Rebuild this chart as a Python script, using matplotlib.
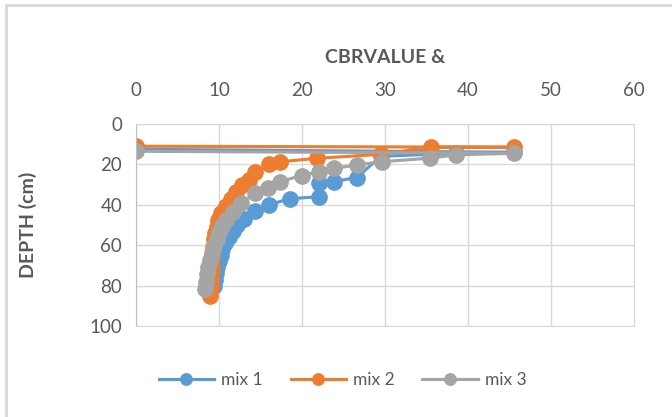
import matplotlib.pyplot as plt
from matplotlib.patches import Rectangle

# CBR value (x) vs depth (y) for three mixes
mix1_cbr = [0, 45.5, 38.5, 35.5, 29.5, 26.6, 23.8, 22.0, 22.0, 18.5, 16.0, 14.3,
            13.0, 12.2, 11.7, 11.2, 10.7, 10.4, 10.2, 10.0, 9.8, 9.6, 9.5, 9.4]
mix1_depth = [12.5, 14.0, 14.5, 15.0, 16.0, 26.5, 28.5, 29.0, 36.0, 37.0, 40.0, 43.0,
              47.0, 50.0, 53.0, 56.0, 59.0, 62.0, 65.0, 68.0, 71.0, 74.0, 77.0, 80.0]

mix2_cbr = [0, 45.5, 35.5, 29.5, 21.8, 17.3, 16.0, 14.3, 13.6, 12.8, 12.0, 11.4, 10.8,
            10.3, 9.9, 9.7, 9.5, 9.4, 9.3, 9.2, 9.1, 9.1, 9.0, 9.0, 8.9]
mix2_depth = [11.0, 11.5, 11.5, 15.0, 17.0, 18.7, 20.0, 24.0, 27.5, 30.0, 33.5, 37.0, 40.5,
              44.0, 47.5, 51.0, 54.0, 57.0, 61.0, 65.0, 69.0, 73.0, 77.0, 81.0, 85.0]

mix3_cbr = [0, 45.5, 38.5, 35.4, 29.6, 26.6, 23.8, 22.0, 20.0, 17.3, 15.9, 14.3, 12.7,
            11.7, 10.9, 10.4, 10.0, 9.7, 9.4, 9.1, 8.9, 8.7, 8.5, 8.4, 8.3]
mix3_depth = [13.5, 14.5, 15.3, 16.9, 18.7, 20.3, 22.0, 23.6, 25.5, 28.5, 31.9, 34.3, 39.3,
              43.4, 47.5, 50.5, 53.5, 57.0, 60.5, 64.0, 67.5, 71.0, 74.5, 78.0, 81.5]

series = [
    ("mix 1", mix1_cbr, mix1_depth, "#5B9BD5"),
    ("mix 2", mix2_cbr, mix2_depth, "#ED7D31"),
    ("mix 3", mix3_cbr, mix3_depth, "#A5A5A5"),
]

TXT = "#595959"
GRID = "#D9D9D9"
FS = 12.5

plt.rcParams["font.family"] = ["Lato", "DejaVu Sans"]

fig = plt.figure(figsize=(6.72, 4.17), dpi=100)
ax = fig.add_axes([136 / 672, 1 - 326 / 417, 498 / 672, 202 / 417])

for name, x, y, c in series:
    ax.plot(x, y, color=c, lw=2.25, marker="o", ms=11, mfc=c, mec=c, label=name)

ax.set_xlim(0, 60)
ax.set_ylim(100, 0)
ax.set_xticks(range(0, 61, 10))
ax.set_yticks(range(0, 101, 20))
ax.xaxis.tick_top()
ax.tick_params(length=0, labelsize=13.5, colors=TXT)
ax.tick_params(axis="x", pad=18)
ax.tick_params(axis="y", pad=10)
ax.grid(True, color=GRID, lw=1)
for s in ax.spines.values():
    s.set_color(GRID)
ax.spines["left"].set_color("#BFBFBF")

ax.set_title("CBRVALUE &", fontsize=14, fontweight="bold", color=TXT, pad=44)
ax.set_ylabel("DEPTH (cm)", fontsize=14, fontweight="bold", color=TXT)
ax.yaxis.set_label_coords(-0.198, 0.5)

fig.legend(loc="center", bbox_to_anchor=(0.51, 1 - 380 / 417), ncol=3, frameon=False,
           fontsize=FS, labelcolor=TXT, handlelength=3.2, markerscale=0.75,
           columnspacing=1.6, handletextpad=0.4)

# outer chart frame (left and top edges visible)
fig.patches.append(Rectangle((6 / 672, -0.05), 1.1, 1 - 5 / 417 + 0.05,
                             transform=fig.transFigure, fill=False,
                             edgecolor=GRID, lw=2))

fig.savefig("out.png", dpi=100)
